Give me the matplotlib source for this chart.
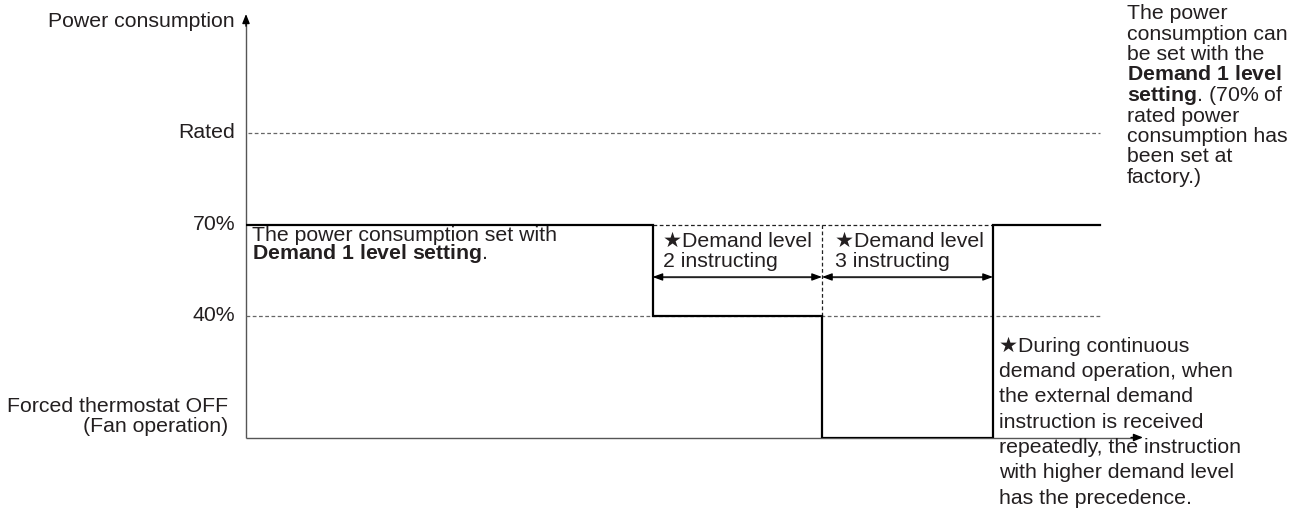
import matplotlib
matplotlib.use("Agg")
import matplotlib.pyplot as plt

# ---------------- data ----------------
level_names = ["Forced thermostat OFF\n(Fan operation)", "40%", "70%", "Rated"]
level_values = [0, 40, 70, 100]
axis_title = "Power consumption"

step_times = [0.0, 4.065, 5.76, 7.47, 8.54]   # segment boundaries (time units)
step_levels = [70, 40, 0, 70]                  # level held in each segment
x_end = 8.97
y_top = 139.3

box_text = ["The power consumption set with", r"$\mathbf{Demand\;1\;level\;setting}$."]
demand2_text = ["\u2605Demand level", "2 instructing"]
demand3_text = ["\u2605Demand level", "3 instructing"]
note_during = ["\u2605During continuous", "demand operation, when", "the external demand",
               "instruction is received", "repeatedly, the instruction",
               "with higher demand level", "has the precedence."]
note_right = ["The power", "consumption can", "be set with the",
              r"$\mathbf{Demand\;1\;level}$", r"$\mathbf{setting}$. (70% of",
              "rated power", "consumption has", "been set at", "factory.)"]

# ---------------- style ----------------
plt.rcParams['font.family'] = ['Liberation Sans', 'DejaVu Sans']
plt.rcParams['mathtext.fontset'] = 'custom'
plt.rcParams['mathtext.rm'] = 'Liberation Sans'
plt.rcParams['mathtext.bf'] = 'Liberation Sans:bold'
FS = 15.3
TXT = '#231f20'
AX = '#555555'
DASH = '#666666'

fig = plt.figure(figsize=(12.98, 5.14), dpi=100)
ax = fig.add_axes([246 / 1298, (514 - 437.5) / 514, 897 / 1298, (437.5 - 14) / 514])
ax.set_xlim(0, x_end)
ax.set_ylim(0, y_top)
ax.axis('off')

# axes with arrow heads
ax.plot([0, 0], [0, y_top - 3], color=AX, lw=1.0, clip_on=False, solid_capstyle='butt')
ax.plot([0, x_end - 0.08], [0, 0], color=AX, lw=1.0, clip_on=False, solid_capstyle='butt')
ax.annotate('', xy=(0, y_top), xytext=(0, y_top - 4),
            arrowprops=dict(arrowstyle='-|>,head_length=0.55,head_width=0.22', color='black',
                            lw=1.0, shrinkA=0, shrinkB=0), annotation_clip=False)
ax.annotate('', xy=(x_end, 0), xytext=(x_end - 0.12, 0),
            arrowprops=dict(arrowstyle='-|>,head_length=0.55,head_width=0.22', color='black',
                            lw=1.0, shrinkA=0, shrinkB=0), annotation_clip=False)

# dashed reference lines
ax.plot([0.02, step_times[-1]], [level_values[3], level_values[3]], color=DASH, lw=0.9,
        ls=(0, (3, 2)))
ax.plot([0.0, step_times[-1]], [level_values[1], level_values[1]], color=DASH, lw=0.9,
        ls=(0, (3, 2)))
ax.plot([step_times[1], step_times[3]], [level_values[2], level_values[2]], color='#222222',
        lw=0.9, ls=(0, (3, 2)))
ax.plot([step_times[2], step_times[2]], [level_values[1], level_values[2]], color='#222222',
        lw=0.9, ls=(0, (3, 2)))

# step line
xs, ys = [], []
for i, lv in enumerate(step_levels):
    xs += [step_times[i], step_times[i + 1]]
    ys += [lv, lv]
ax.plot(xs, ys, color='black', lw=1.6, solid_joinstyle='miter')

# double arrows
arrow_y = 52.8
for a, b in [(step_times[1], step_times[2]), (step_times[2], step_times[3])]:
    ax.annotate('', xy=(b, arrow_y), xytext=(a, arrow_y),
                arrowprops=dict(arrowstyle='<|-|>,head_length=0.6,head_width=0.22',
                                color='black', lw=0.9, shrinkA=0, shrinkB=0))
    ax.plot([a + 0.08, b - 0.08], [arrow_y, arrow_y], color=AX, lw=1.0)


def lines_at(lines, xy, dx, dy0, step, ha='left'):
    for i, s in enumerate(lines):
        ax.annotate(s, xy=xy, xytext=(dx, dy0 - i * step), textcoords='offset pixels',
                    ha=ha, va='baseline', fontsize=FS, color=TXT, annotation_clip=False)


# axis labels
lines_at([axis_title], (0, y_top), -11, -13, 0, ha='right')
lines_at([level_names[3]], (0, level_values[3]), -11, -4.5, 0, ha='right')
lines_at([level_names[2]], (0, level_values[2]), -11, -5.5, 0, ha='right')
lines_at([level_names[1]], (0, level_values[1]), -11, -5.5, 0, ha='right')
lines_at(level_names[0].split("\n"), (0, level_values[0]), -18, 25.8, 20, ha='right')

# annotations
lines_at(box_text, (0, step_levels[0]), 6, -16, 18.8)
lines_at(demand2_text, (step_times[1], step_levels[0]), 10.5, -22, 20)
lines_at(demand3_text, (step_times[2], step_levels[0]), 13, -22, 20)
lines_at(note_during, (step_times[3], 0), 6, 86, 25.4)
lines_at(note_right, (x_end, y_top), -16, -5, 20.5)

fig.savefig("out.png", dpi=100)
